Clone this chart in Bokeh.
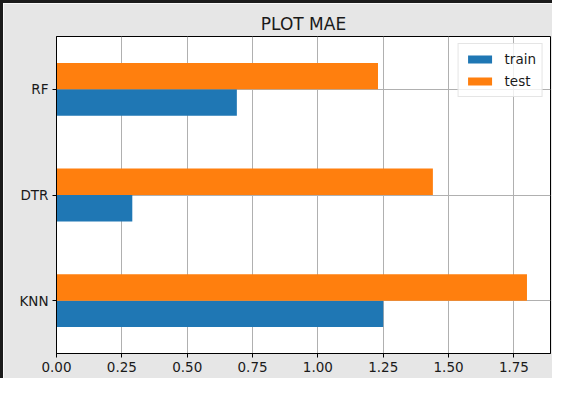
from bokeh.plotting import figure
from bokeh.models import (ColumnDataSource, FactorRange, Range1d, FixedTicker,
                          NumeralTickFormatter, Legend, LegendItem)
from bokeh.transform import dodge
from bokeh.embed import file_html
from bokeh.resources import INLINE

# ---- data ----
models = ["KNN", "DTR", "RF"]
train_mae = [1.25, 0.29, 0.69]
test_mae = [1.80, 1.44, 1.23]
x_ticks = [0.0, 0.25, 0.5, 0.75, 1.0, 1.25, 1.5, 1.75]
title_text = "PLOT MAE"

FONT = "DejaVu Sans"
BG = "#e6e6e6"
FRAME = "#1b1b1b"

src = ColumnDataSource(dict(model=models, train=train_mae, test=test_mae))

p = figure(width=552, height=378, output_backend="svg", toolbar_location=None,
           y_range=FactorRange(factors=models, range_padding=0),
           x_range=Range1d(0, max(test_mae) * 1.05),
           min_border_left=53, min_border_right=5, min_border_top=33,
           min_border_bottom=28)
p.styles = {"border-top": f"3px solid {FRAME}", "border-left": f"3px solid {FRAME}"}

p.title.text = title_text
p.title.align = "center"
p.title.text_font = FONT
p.title.text_font_size = "17px"
p.title.text_font_style = "normal"
p.title.text_color = "#1a1a1a"
p.title.standoff = 6

p.border_fill_color = BG
p.background_fill_color = "white"
p.outline_line_color = "black"
p.outline_line_width = 1
p.outline_line_alpha = 1

r_train = p.hbar(y=dodge("model", -0.125, range=p.y_range), right="train", left=0,
                 height=0.25, source=src, fill_color="#1f77b4", line_color=None)
r_test = p.hbar(y=dodge("model", 0.125, range=p.y_range), right="test", left=0,
                height=0.25, source=src, fill_color="#ff7f0e", line_color=None)

p.xaxis.ticker = FixedTicker(ticks=x_ticks)
p.xaxis.formatter = NumeralTickFormatter(format="0.00")
for ax in (p.xaxis[0], p.yaxis[0]):
    ax.axis_line_color = "black"
    ax.major_tick_line_color = "black"
    ax.major_tick_out = 4
    ax.major_tick_in = 0
    ax.minor_tick_line_color = None
    ax.major_label_text_font = FONT
    ax.major_label_text_font_size = "13.5px"
    ax.major_label_text_color = "#1a1a1a"
    ax.major_label_standoff = 4

p.xgrid.grid_line_color = "#b0b0b0"
p.ygrid.grid_line_color = "#b0b0b0"
p.xgrid.grid_line_width = 1
p.ygrid.grid_line_width = 1

legend = Legend(items=[LegendItem(label="train", renderers=[r_train]),
                       LegendItem(label="test", renderers=[r_test])],
                location="top_right", margin=7, padding=6, spacing=4,
                glyph_width=30, glyph_height=10, label_height=18,
                label_standoff=10, label_text_font=FONT,
                label_text_font_size="13.5px", label_text_color="#1a1a1a",
                border_line_color="#cccccc", border_line_width=1,
                background_fill_color="white", background_fill_alpha=0.8)
p.add_layout(legend, "center")

open("out.html", "w").write(file_html(p, INLINE))
